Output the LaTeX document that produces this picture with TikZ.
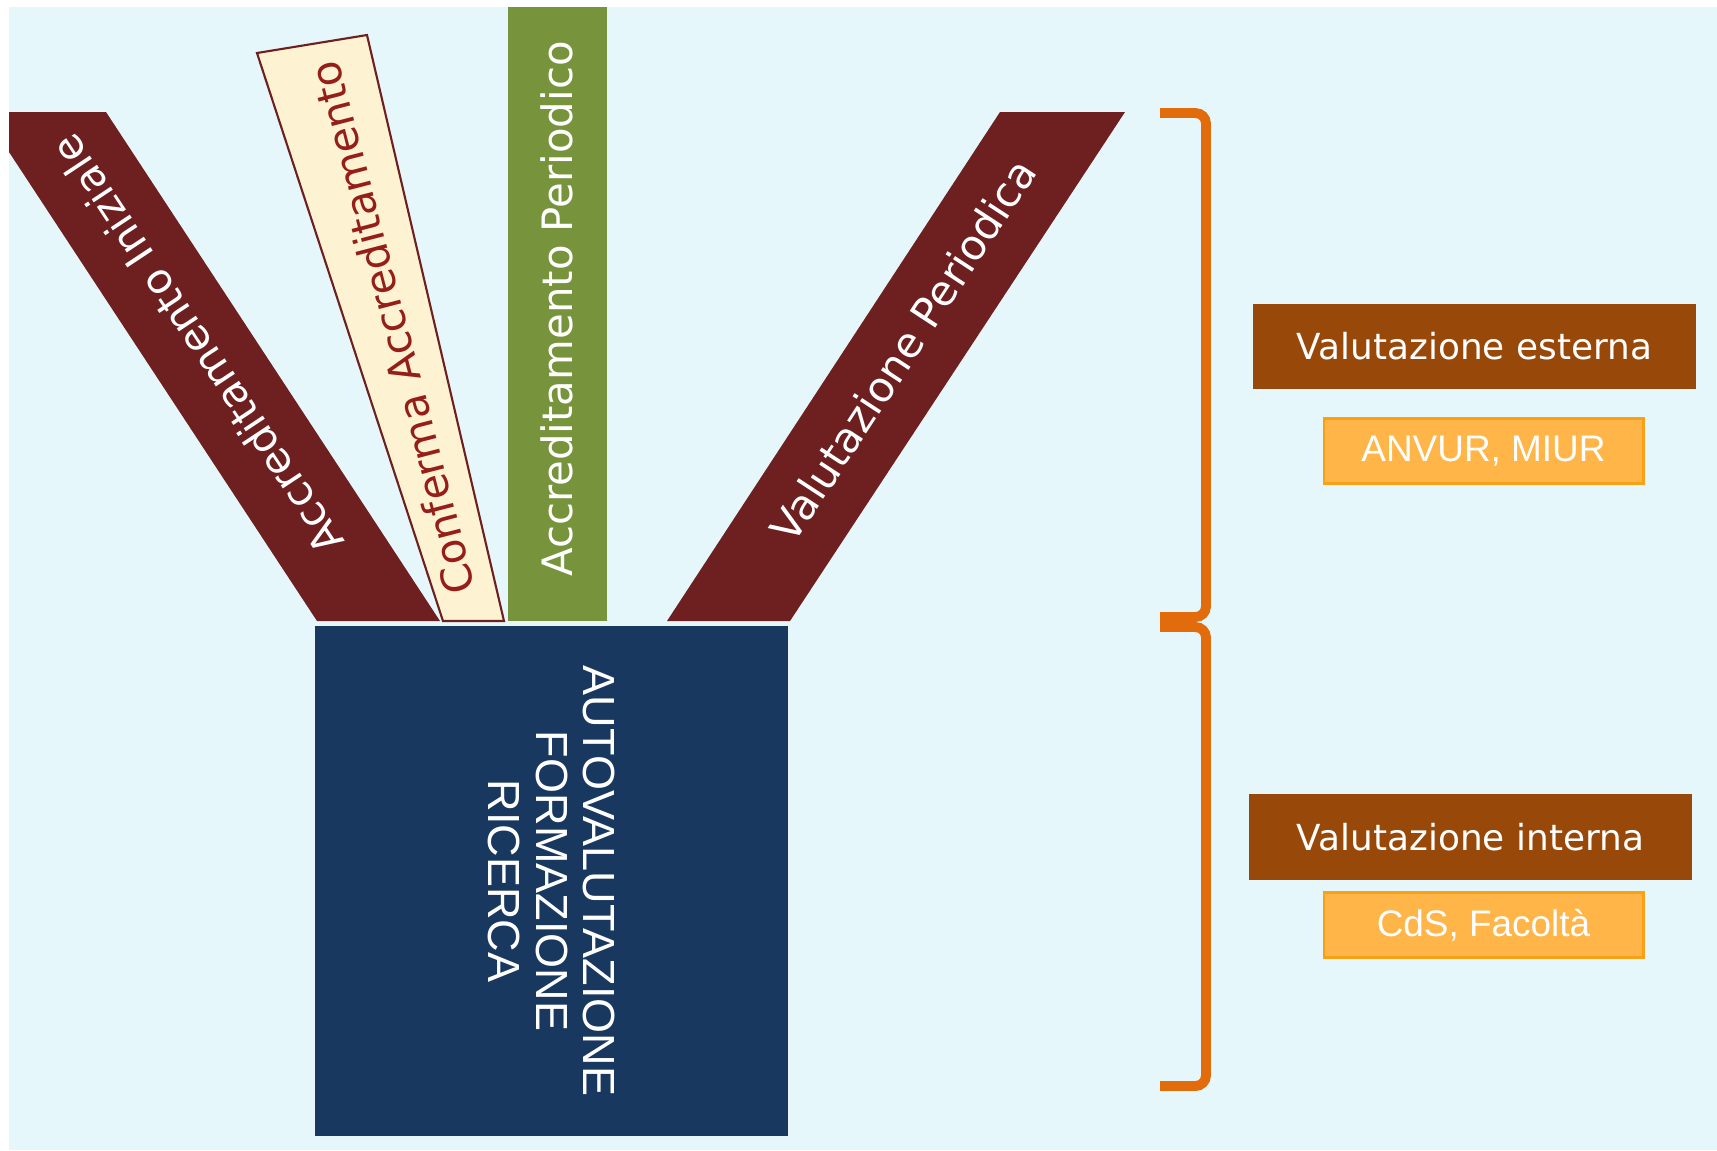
\documentclass[tikz,border=0pt]{standalone}
\usepackage{fontspec}
\usepackage{xcolor}
\usepackage{tikz}
\usetikzlibrary{positioning}

\newfontfamily\labelfont{DejaVu Sans}
\newfontfamily\boxfont{Liberation Sans}

\definecolor{bgblue}{RGB}{230,247,251}
\definecolor{stripred}{RGB}{110,31,31}
\definecolor{stripcream}{RGB}{253,242,210}
\definecolor{creamtext}{RGB}{150,30,25}
\definecolor{stripgreen}{RGB}{119,147,60}
\definecolor{coreblue}{RGB}{24,56,96}
\definecolor{labelbrown}{RGB}{152,72,8}
\definecolor{whofill}{RGB}{255,181,71}
\definecolor{wholine}{RGB}{250,160,20}
\definecolor{bracketorange}{RGB}{226,108,12}

\begin{document}
\begin{tikzpicture}[x=0.01cm, y=-0.01cm,
    striptext/.style={text=white, inner sep=0pt, font=\labelfont\fontsize{11.9}{14}\selectfont},
    labelbox/.style={fill=labelbrown, text=white, minimum width=4.43cm, minimum height=0.85cm, font=\labelfont\fontsize{10.2}{12}\selectfont},
    whobox/.style={fill=whofill, draw=wholine, line width=0.8pt, text=white, minimum width=3.19cm, minimum height=0.65cm, font=\boxfont\fontsize{10.5}{12}\selectfont},
    bracketline/.style={draw=bracketorange, line width=2.8pt, rounded corners=3pt}]
    \useasboundingbox (0,0) rectangle (1717,1150);
    \fill[bgblue] (9,7) rectangle (1717,1150);

    % strips
    \fill[stripred] (9,112) -- (106,112) -- (440,621) -- (317,621) -- (9,152) -- cycle;
    \filldraw[fill=stripcream, draw=stripred, line width=0.6pt] (257,53) -- (367,35) -- (504,621) -- (443,621) -- cycle;
    \fill[stripgreen] (508,7) rectangle (607,621);
    \fill[stripred] (1000,112) -- (1125,112) -- (790,621) -- (667,621) -- cycle;

    \node[striptext, rotate=123.5] (iniziale) at (197,345) {Accreditamento Iniziale};
    \node[striptext, text=creamtext, rotate=104.5] (conferma) at (392,328) {Conferma Accreditamento};
    \node[striptext, rotate=90] (periodico) at (557,309) {Accreditamento Periodico};
    \node[striptext, rotate=56.8] (valperiodica) at (903,350) {Valutazione Periodica};

    % core box
    \node[fill=coreblue, rotate=-90, minimum width=5.10cm, minimum height=4.73cm, text=white, align=center,
          font=\boxfont\fontsize{12.8}{13.4}\selectfont] (core) at (551.5,881) {AUTOVALUTAZIONE\\FORMAZIONE\\RICERCA};

    % brackets
    \draw[bracketline] (1160,113) -- (1206,113) -- (1206,617) -- (1160,617);
    \draw[bracketline] (1160,627) -- (1206,627) -- (1206,1086) -- (1160,1086);

    \node[labelbox] (esterna) at (1474.5,346.5) {Valutazione esterna};
    \node[whobox, below=0.27cm of esterna, xshift=0.09cm] (anvur) {ANVUR, MIUR};
    \node[labelbox] (interna) at (1470.5,837) {Valutazione interna};
    \node[whobox, below=0.11cm of interna, xshift=0.13cm] (cds) {CdS, Facoltà};
\end{tikzpicture}
\end{document}
